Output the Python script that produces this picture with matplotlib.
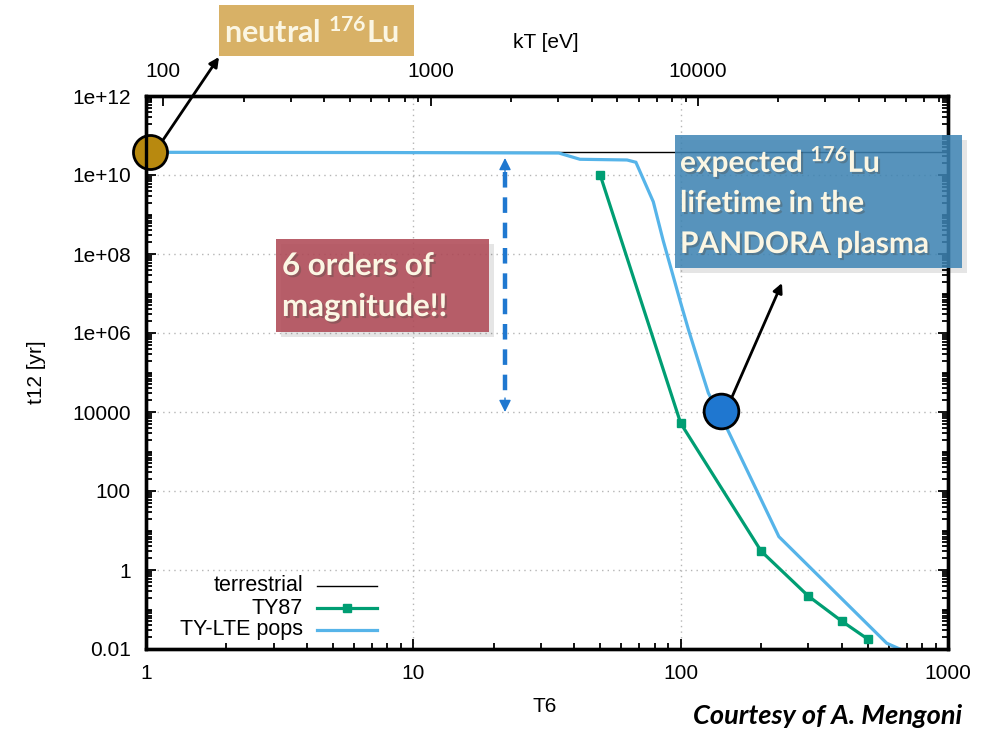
import matplotlib
matplotlib.use("Agg")
import matplotlib.pyplot as plt
from matplotlib.patches import Rectangle, FancyArrowPatch
from matplotlib.lines import Line2D
from matplotlib.ticker import FixedLocator, FixedFormatter, NullFormatter
import matplotlib.patheffects as pe

plt.rcParams["font.family"] = ["Liberation Sans", "DejaVu Sans"]
plt.rcParams["mathtext.fontset"] = "custom"
plt.rcParams["mathtext.rm"] = "Lato:bold"
plt.rcParams["mathtext.bf"] = "Lato:bold"
plt.rcParams["mathtext.it"] = "Lato:bold"

# ---------------- data ----------------
KT_PER_T6 = 86.17          # eV per 10^6 K
T12_TERRESTRIAL = 3.76e10  # yr

t6_terrestrial = [1, 1000]
t12_terrestrial = [T12_TERRESTRIAL, T12_TERRESTRIAL]

t6_ty87 = [50, 100, 200, 300, 400, 500]
t12_ty87 = [1.0e10, 5.2e3, 3.0, 0.22, 0.051, 0.018]

t6_lte = [1, 8, 35, 42, 63, 68, 79, 86, 100, 107, 119, 127, 150, 233, 590, 660]
t12_lte = [3.76e10, 3.7e10, 3.6e10, 2.5e10, 2.4e10, 2.1e10, 2.1e9, 2.2e8,
           5.8e6, 1.2e6, 1.2e5, 3.0e4, 3.5e3, 7.0, 0.014, 0.01]

x_ticks = [1, 10, 100, 1000]
x_labels = ["1", "10", "100", "1000"]
y_ticks = [1e-2, 1e0, 1e2, 1e4, 1e6, 1e8, 1e10, 1e12]
y_labels = ["0.01", "1", "100", "10000", "1e+06", "1e+08", "1e+10", "1e+12"]
kt_ticks = [100, 1000, 10000]
kt_labels = ["100", "1000", "10000"]

legend_names = ["terrestrial", "TY87", "TY-LTE pops"]

# highlighted points
neutral_point = (1.035, T12_TERRESTRIAL)
plasma_point = (142, 1.07e4)

C_GREEN = "#009E73"
C_BLUE = "#56B4E9"
C_ARROW = "#1F78D0"
CREAM = "#FBF6E3"

W, H = 997, 729
fig = plt.figure(figsize=(W / 100, H / 100), dpi=100)
ax = fig.add_axes([146 / W, 1 - 649 / H, (948 - 146) / W, (649 - 96) / H])


def fp(x, y):
    """pixel position (from top-left) -> figure fraction"""
    return (x / W, 1 - y / H)


ax.set_xscale("log")
ax.set_yscale("log")
ax.set_xlim(1, 1000)
ax.set_ylim(1e-2, 1e12)

# grid
for xv in x_ticks[1:-1]:
    ax.axvline(xv, color="#b5b5b5", lw=1.0, ls=(0, (1, 3)), zorder=1)
for yv in y_ticks[1:-1]:
    ax.axhline(yv, color="#b5b5b5", lw=1.0, ls=(0, (1, 3)), zorder=1)

# curves
ax.plot(t6_terrestrial, t12_terrestrial, color="black", lw=1.0, zorder=3)
ax.plot(t6_lte, t12_lte, color=C_BLUE, lw=2.3, zorder=4, solid_joinstyle="miter")
ax.plot(t6_ty87, t12_ty87, color=C_GREEN, lw=2.3, marker="s", ms=5.5, zorder=5)

# ticks
ax.xaxis.set_major_locator(FixedLocator(x_ticks))
ax.xaxis.set_major_formatter(FixedFormatter(x_labels))
x_minor = [m * 10 ** d for d in range(0, 3) for m in range(2, 10)]
ax.xaxis.set_minor_locator(FixedLocator(x_minor))
ax.xaxis.set_minor_formatter(NullFormatter())
ax.yaxis.set_major_locator(FixedLocator(y_ticks))
ax.yaxis.set_major_formatter(FixedFormatter(y_labels))
y_minor = [m * 10.0 ** d for d in range(-2, 12) for m in range(1, 10)
           if not (m == 1 and d % 2 == 0)]
ax.yaxis.set_minor_locator(FixedLocator(y_minor))
ax.yaxis.set_minor_formatter(NullFormatter())
ax.tick_params(which="both", direction="in", top=False, right=True,
               width=1.3, labelsize=15, pad=11)
ax.tick_params(which="major", length=7)
ax.tick_params(which="minor", length=4)
for s in ax.spines.values():
    s.set_linewidth(2.4)

# top kT axis
ax2 = ax.twiny()
ax2.set_xscale("log")
ax2.set_xlim(1 * KT_PER_T6, 1000 * KT_PER_T6)
ax2.xaxis.set_major_locator(FixedLocator(kt_ticks))
ax2.xaxis.set_major_formatter(FixedFormatter(kt_labels))
kt_minor = [m * 10 ** d for d in range(1, 5) for m in range(2, 10)]
ax2.xaxis.set_minor_locator(FixedLocator(kt_minor))
ax2.xaxis.set_minor_formatter(NullFormatter())
ax2.tick_params(which="both", direction="in", width=1.3, labelsize=15, pad=11)
ax2.tick_params(which="major", length=7)
ax2.tick_params(which="minor", length=4)
for s in ax2.spines.values():
    s.set_linewidth(2.4)

# axis titles
fig.text(*fp(546, 42), "kT [eV]", fontsize=15, ha="center", va="center")
fig.text(*fp(545, 707), "T6", fontsize=15, ha="center", va="center")
fig.text(*fp(37, 372), "t12 [yr]", fontsize=15, ha="center", va="center",
         rotation=90)

# legend (text right-aligned, sample to the right)
rows_y = [0.114, 0.0741, 0.0344]
styles = [dict(color="black", lw=1.0),
          dict(color=C_GREEN, lw=2.3),
          dict(color=C_BLUE, lw=2.3)]
for name, yy, st in zip(legend_names, rows_y, styles):
    ax.text(0.1958, yy, name, transform=ax.transAxes, ha="right", va="center",
            fontsize=15.5, zorder=6)
    ax.add_line(Line2D([0.2132, 0.288], [yy, yy], transform=ax.transAxes,
                       zorder=6, **st))
ax.add_line(Line2D([0.2506], [rows_y[1]], transform=ax.transAxes, marker="s",
                   ms=5.5, color=C_GREEN, zorder=6))

# highlighted points
ax.plot(*neutral_point, marker="o", ms=24.5, mfc="#B8890F", mec="black",
        mew=2.0, clip_on=False, zorder=8)
ax.plot(*plasma_point, marker="o", ms=25, mfc="#1F77D0", mec="black",
        mew=2.0, clip_on=False, zorder=8)

shadow = [pe.withSimplePatchShadow(offset=(1.5, -1.5), alpha=0.35)]


def box(x0, y0, x1, y1, color, alpha, drop=True):
    # optional soft drop shadow, then the box itself
    if drop:
        fig.add_artist(Rectangle(fp(x0 + 5, y1 + 5), (x1 - x0) / W,
                                 (y1 - y0) / H, transform=fig.transFigure,
                                 facecolor="black", alpha=0.10, lw=0, zorder=1))
    fig.add_artist(Rectangle(fp(x0, y1), (x1 - x0) / W, (y1 - y0) / H,
                             transform=fig.transFigure, facecolor=color,
                             alpha=alpha, lw=0, zorder=2))


def label(x, y, s, size, fx=True):
    fig.text(*fp(x, y), s, fontsize=size, color=CREAM, ha="left",
             va="baseline", family="Lato", fontweight="bold", zorder=5,
             path_effects=shadow if fx else None)


# neutral Lu box
box(219, 5, 414, 56, "#D8B166", 1.0, drop=False)
label(224, 43, r"neutral $^{176}$Lu", 22, fx=False)

# PANDORA box
box(675, 135, 962, 268, "#3E85B5", 0.85)
label(680, 172, r"expected $^{176}$Lu", 21.5)
label(680, 212, "lifetime in the", 21.5)
label(680, 253, "PANDORA plasma", 21.5)

# orders-of-magnitude box
box(276, 239, 489, 332, "#B04A57", 0.88)
label(282, 275, "6 orders of", 22.5)
label(282, 316, "magnitude!!", 22.5)

# arrows
for (xa, ya), (xb, yb) in [((163, 140), (219, 57)), ((732, 397), (782, 283))]:
    fig.add_artist(FancyArrowPatch(fp(xa, ya), fp(xb, yb),
                                   transform=fig.transFigure, arrowstyle="-|>",
                                   mutation_scale=14, lw=2.0, color="black",
                                   shrinkA=0, shrinkB=0, zorder=6))

# dashed double arrow
fig.add_artist(Line2D([fp(505, 172)[0], fp(505, 398)[0]],
                      [fp(505, 172)[1], fp(505, 398)[1]],
                      transform=fig.transFigure, color=C_ARROW, lw=3.2,
                      ls=(0, (3.5, 2.2)), zorder=6))
for (xa, ya), (xb, yb) in [((505, 172), (505, 158)), ((505, 398), (505, 412))]:
    fig.add_artist(FancyArrowPatch(fp(xa, ya), fp(xb, yb),
                                   transform=fig.transFigure, arrowstyle="-|>",
                                   mutation_scale=18, lw=1.0, color=C_ARROW,
                                   shrinkA=0, shrinkB=0, zorder=6))

# credit line
fig.text(*fp(962, 724), "Courtesy of A. Mengoni", fontsize=19.5, ha="right",
         va="baseline", family="Lato", fontweight="bold", style="italic")

fig.savefig("out.png", dpi=100)
